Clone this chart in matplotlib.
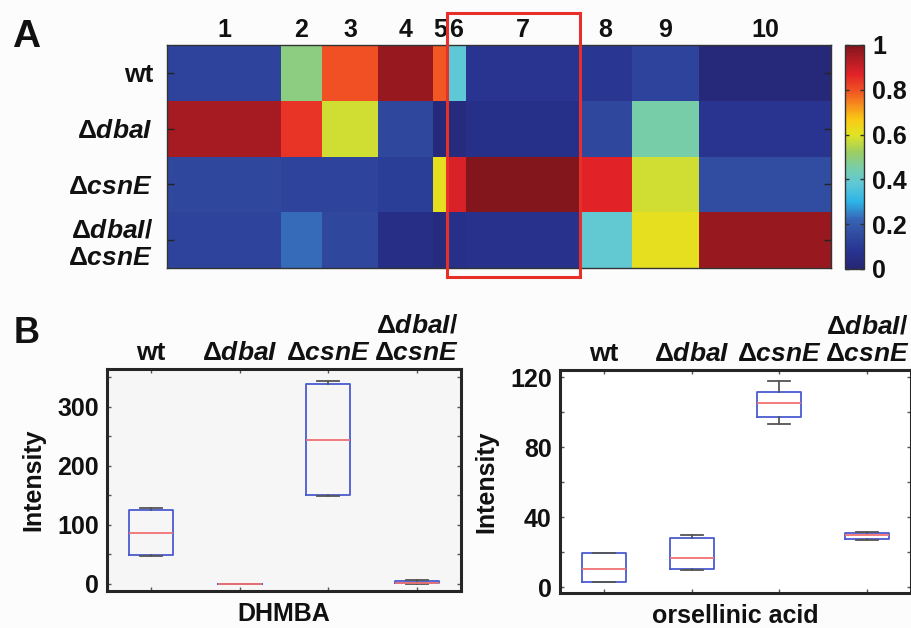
import numpy as np
import matplotlib
matplotlib.use('Agg')
import matplotlib.pyplot as plt
from matplotlib.colors import LinearSegmentedColormap
from matplotlib.patches import Rectangle
from matplotlib.ticker import MultipleLocator

# ---------------- data ----------------
strain_labels = ['wt', r'$\Delta\mathit{dbaI}$', r'$\Delta\mathit{csnE}$',
                 r'$\Delta\mathit{dbaI}$/' + '\n' + r'$\Delta\mathit{csnE}$']
peak_labels = ['1', '2', '3', '4', '5', '6', '7', '8', '9', '10']
# column boundaries (relative retention-window widths)
col_edges = [0, 114, 155, 211, 266, 280, 299, 412, 465, 532, 664]
heat_wt = [0.13, 0.49, 0.80, 0.97, 0.79, 0.38, 0.08, 0.09, 0.13, 0.02]
heat_dbaI = [0.95, 0.84, 0.58, 0.14, 0.02, 0.03, 0.06, 0.14, 0.45, 0.08]
heat_csnE = [0.14, 0.13, 0.13, 0.11, 0.61, 0.88, 1.00, 0.87, 0.58, 0.16]
heat_double = [0.13, 0.23, 0.14, 0.05, 0.03, 0.06, 0.07, 0.39, 0.61, 0.97]
highlight_cols = (6, 7)

# DHMBA box statistics
dhmba_whislo = [46, 0, 149, 0]
dhmba_q1 = [49, 0, 150, 0.5]
dhmba_med = [86, 0, 244, 1.5]
dhmba_q3 = [125, 0, 339, 4]
dhmba_whishi = [129, 0, 343, 6]

# orsellinic acid box statistics
ors_whislo = [2.6, 9.9, 93.3, 26.8]
ors_q1 = [3.0, 10.3, 97.1, 27.6]
ors_med = [10.5, 16.7, 104.9, 29.5]
ors_q3 = [19.2, 28.0, 111.2, 31.0]
ors_whishi = [19.2, 29.7, 117.7, 31.4]

# ---------------- style ----------------
plt.rcParams['font.family'] = ['Liberation Sans', 'DejaVu Sans']
plt.rcParams['font.weight'] = 'bold'
plt.rcParams['axes.labelweight'] = 'bold'
plt.rcParams['mathtext.fontset'] = 'custom'
plt.rcParams['mathtext.rm'] = 'Liberation Sans:bold'
plt.rcParams['mathtext.bf'] = 'Liberation Sans:bold'
plt.rcParams['mathtext.it'] = 'Liberation Sans:bold:italic'
plt.rcParams['mathtext.sf'] = 'Liberation Sans:bold'

FS = 18
FSL = 19
TXT = '#111111'

cmap_pts = [
    (0.00, (38, 38, 115)), (0.08, (40, 52, 145)), (0.15, (48, 75, 160)),
    (0.22, (55, 100, 180)), (0.30, (45, 180, 230)), (0.38, (95, 200, 215)),
    (0.45, (120, 205, 170)), (0.52, (155, 205, 100)), (0.60, (225, 228, 35)),
    (0.67, (250, 200, 20)), (0.74, (245, 135, 30)), (0.80, (240, 80, 35)),
    (0.87, (225, 35, 40)), (0.94, (175, 28, 35)), (1.00, (130, 22, 28)),
]
cmap = LinearSegmentedColormap.from_list(
    'mjet', [(p, tuple(c / 255 for c in col)) for p, col in cmap_pts])

W, H = 912, 628
fig = plt.figure(figsize=(W / 100, H / 100), dpi=100, facecolor='#fcfcfc')


def frac(x0, y0, x1, y1):
    return [x0 / W, 1 - y1 / H, (x1 - x0) / W, (y1 - y0) / H]


# ---------------- panel A: heatmap ----------------
axh = fig.add_axes(frac(167, 45, 831, 268))
heat = np.array([heat_wt, heat_dbaI, heat_csnE, heat_double])
row_edges = np.arange(len(strain_labels) + 1)
mesh = axh.pcolormesh(col_edges, row_edges, heat, cmap=cmap, vmin=0, vmax=1)
axh.set_xlim(col_edges[0], col_edges[-1])
axh.set_ylim(row_edges[-1], row_edges[0])
centers = [(a + b) / 2 for a, b in zip(col_edges[:-1], col_edges[1:])]
axh.set_xticks(centers)
axh.set_xticklabels(peak_labels, fontsize=FS, color=TXT)
axh.xaxis.tick_top()
axh.tick_params(axis='x', length=0, pad=2)
axh.set_yticks(row_edges[:-1] + 0.5)
axh.set_yticklabels(strain_labels, fontsize=FSL, color=TXT)
axh.tick_params(axis='y', direction='in', left=True, right=True, length=5,
                width=1, color='#222222', pad=10)
for s in axh.spines.values():
    s.set_linewidth(1.0)
    s.set_color('#333333')

c0 = col_edges[highlight_cols[0] - 1]
c1 = col_edges[highlight_cols[1]]
axh.add_patch(Rectangle((c0, -0.57), c1 - c0 + 1, 4.73, fill=False,
                        edgecolor='#e8302a', linewidth=2.2, clip_on=False,
                        zorder=5))

cax = fig.add_axes(frac(845, 45, 864, 269))
cb = fig.colorbar(mesh, cax=cax, ticks=[0, 0.2, 0.4, 0.6, 0.8, 1])
cb.ax.set_yticklabels(['0', '0.2', '0.4', '0.6', '0.8', '1'], fontsize=FS,
                      color=TXT)
cb.ax.tick_params(direction='in', left=True, right=True, length=3,
                  width=1, color='#333333', pad=6)
cb.outline.set_linewidth(1.0)
cb.outline.set_edgecolor('#333333')

fig.text(12 / W, 1 - 47 / H, 'A', fontsize=28, color=TXT, va='baseline')
fig.text(14 / W, 1 - 343 / H, 'B', fontsize=26, color=TXT, va='baseline')

# ---------------- panel B: box plots ----------------
box_labels = ['wt', r'$\Delta\mathit{dbaI}$', r'$\Delta\mathit{csnE}$',
              r'$\Delta\mathit{dbaI}$/' + '\n' + r'$\Delta\mathit{csnE}$']


def make_stats(lo, q1, med, q3, hi):
    return [dict(whislo=a, q1=b, med=c, q3=d, whishi=e, fliers=[])
            for a, b, c, d, e in zip(lo, q1, med, q3, hi)]


def box_panel(rect, stats, ylim, major, minor, xlabel, bg):
    ax = fig.add_axes(rect, facecolor=bg)
    ax.bxp(stats, positions=[1, 2, 3, 4], widths=0.5, capwidths=0.25,
           showfliers=False,
           boxprops=dict(color='#4a5ccf', linewidth=1.3),
           medianprops=dict(color='#f07272', linewidth=1.3),
           whiskerprops=dict(color='#555555', linewidth=1.3),
           capprops=dict(color='#555555', linewidth=1.3))
    ax.set_xlim(0.5, 4.5)
    ax.set_ylim(*ylim)
    ax.set_xticks([1, 2, 3, 4])
    ax.set_xticklabels(box_labels, fontsize=FSL, color=TXT)
    ax.tick_params(axis='x', which='both', direction='in', top=True,
                   bottom=True, labeltop=True, labelbottom=False, length=3,
                   width=1, color='#555555', pad=3)
    ax.yaxis.set_major_locator(MultipleLocator(major))
    ax.yaxis.set_minor_locator(MultipleLocator(minor))
    ax.tick_params(axis='y', which='both', direction='in', left=True,
                   right=True, length=3, width=1, color='#555555', pad=6,
                   labelsize=FS, labelcolor=TXT)
    ax.set_ylabel('Intensity', fontsize=FS, color=TXT, labelpad=8,
                  fontweight='bold')
    ax.set_xlabel(xlabel, fontsize=FS, color=TXT, labelpad=8,
                  fontweight='bold')
    for s in ax.spines.values():
        s.set_linewidth(2.2)
        s.set_color('#262626')
    return ax


box_panel(frac(107, 369, 461, 591),
          make_stats(dhmba_whislo, dhmba_q1, dhmba_med, dhmba_q3, dhmba_whishi),
          (-12.6, 364), 100, 50, 'DHMBA', '#f6f6f6')
box_panel(frac(560, 370, 911, 593),
          make_stats(ors_whislo, ors_q1, ors_med, ors_q3, ors_whishi),
          (-3.4, 124), 40, 20, 'orsellinic acid', 'white')

fig.savefig('out.png', dpi=100, facecolor=fig.get_facecolor())
